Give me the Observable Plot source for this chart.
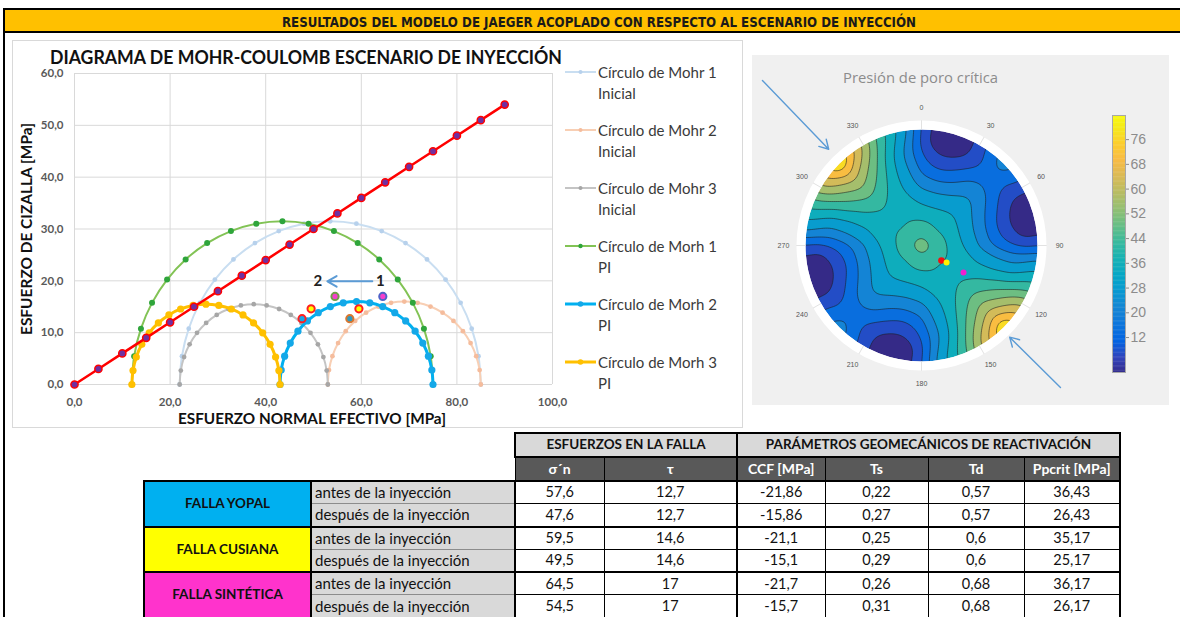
<!DOCTYPE html>
<html><head><meta charset="utf-8">
<script src="https://cdn.jsdelivr.net/npm/d3@7"></script>
<script src="https://cdn.jsdelivr.net/npm/@observablehq/plot@0.6"></script>
<style>
html,body{margin:0;padding:0;background:#fff;}
#root{position:relative;width:1180px;height:617px;overflow:hidden;font-family:Lato,"Open Sans",sans-serif;background:#fff;}
.abs{position:absolute;}
#tabla{position:absolute;left:143px;top:432px;border-collapse:collapse;table-layout:fixed;font-family:Lato,sans-serif;color:#111;}
#tabla td,#tabla th{padding:0;overflow:hidden;white-space:nowrap;line-height:1;}
#tabla .blank{border:none;background:transparent;}
#tabla .grp{background:#D9D9D9;border:2px solid #000;font-weight:bold;font-size:13.5px;height:22px;text-align:center;}
#tabla .sub{background:#595959;color:#fff;font-weight:bold;font-size:14px;border:1px solid #000;border-bottom:2px solid #000;height:22px;text-align:center;}
#tabla .nom{font-weight:bold;font-size:13.5px;text-align:center;border:2px solid #000;}
#tabla .est{background:#D9D9D9;font-size:15px;text-align:left;padding-left:3px;border-top:1px solid #8c8c8c;border-bottom:1px solid #8c8c8c;border-left:2px solid #000;border-right:2px solid #000;}
#tabla .num{font-size:14.5px;text-align:center;border:1px solid #000;height:21.3px;background:#fff;}
#tabla .g0 td{border-top:2px solid #000;}
#tabla .last td{border-bottom:2px solid #000;}
#tabla .sep{border-right:2px solid #000 !important;}
#tabla .rgt{border-right:2px solid #000 !important;}
</style></head>
<body><div id="root"></div>
<script>
// ================= DATA =================
const tituloGeneral = "RESULTADOS DEL MODELO DE JAEGER ACOPLADO CON RESPECTO AL ESCENARIO DE INYECCIÓN";
const tituloMohr = "DIAGRAMA DE MOHR-COULOMB ESCENARIO DE INYECCIÓN";
const tituloEjeX = "ESFUERZO NORMAL EFECTIVO [MPa]";
const tituloEjeY = "ESFUERZO DE CIZALLA [MPa]";
const ticksX = [0, 20, 40, 60, 80, 100];
const ticksY = [0, 10, 20, 30, 40, 50, 60];

const nombresSeries = ["Círculo de Mohr 1 Inicial", "Círculo de Mohr 2 Inicial", "Círculo de Mohr 3 Inicial",
                       "Círculo de Morh 1 PI", "Círculo de Morh 2 PI", "Círculo de Morh 3 PI"];

const sigmaMohr1Inicial = [22,22.48,23.9,26.22,29.37,33.25,37.75,42.73,48.03,53.5,58.97,64.27,69.25,73.75,77.63,80.78,83.1,84.52,85];
const sigmaMohr2Inicial = [53,53.24,53.96,55.14,56.74,58.72,61,63.53,66.22,69,71.78,74.47,77,79.28,81.26,82.86,84.04,84.76,85];
const sigmaMohr3Inicial = [22,22.24,22.93,24.08,25.63,27.54,29.75,32.2,34.81,37.5,40.19,42.8,45.25,47.46,49.37,50.92,52.07,52.76,53];
const sigmaMorh1PI = [12,12.48,13.9,16.22,19.37,23.25,27.75,32.73,38.03,43.5,48.97,54.27,59.25,63.75,67.63,70.78,73.1,74.52,75];
const sigmaMorh2PI = [43,43.24,43.96,45.14,46.74,48.72,51,53.53,56.22,59,61.78,64.47,67,69.28,71.26,72.86,74.04,74.76,75];
const sigmaMorh3PI = [12,12.24,12.93,14.08,15.63,17.54,19.75,22.2,24.81,27.5,30.19,32.8,35.25,37.46,39.37,40.92,42.07,42.76,43];
const tauCirculo1 = [0,5.47,10.77,15.75,20.25,24.13,27.28,29.6,31.02,31.5,31.02,29.6,27.28,24.13,20.25,15.75,10.77,5.47,0];
const tauCirculo2 = [0,2.78,5.47,8,10.28,12.26,13.86,15.04,15.76,16,15.76,15.04,13.86,12.26,10.28,8,5.47,2.78,0];
const tauCirculo3 = [0,2.69,5.3,7.75,9.96,11.87,13.42,14.57,15.26,15.5,15.26,14.57,13.42,11.87,9.96,7.75,5.3,2.69,0];

const sigmaEnvolvente = [0,5,10,15,20,25,30,35,40,45,50,55,60,65,70,75,80,85,90];
const tauEnvolvente = [0,3,6,9,12,15,18,21,24,27,30,33,36,39,42,45,48,51,54];

const fallas = ["FALLA YOPAL", "FALLA CUSIANA", "FALLA SINTÉTICA"];
const estados = ["antes de la inyección", "después de la inyección"];
const sigmaN = [57.6, 47.6, 59.5, 49.5, 64.5, 54.5];
const tauFalla = [12.7, 12.7, 14.6, 14.6, 17, 17];
const ccf = [-21.86, -15.86, -21.1, -15.1, -21.7, -15.7];
const ts = [0.22, 0.27, 0.25, 0.29, 0.26, 0.31];
const td = [0.57, 0.57, 0.6, 0.6, 0.68, 0.68];
const ppcrit = [36.43, 26.43, 35.17, 25.17, 36.17, 26.17];
const encabezadoGrupos = ["ESFUERZOS EN LA FALLA", "PARÁMETROS GEOMECÁNICOS DE REACTIVACIÓN"];
const encabezadoColumnas = ["σ´n", "τ", "CCF [MPa]", "Ts", "Td", "Ppcrit [MPa]"];

const etiquetasFlecha = ["1", "2"];
const sigmaEtiquetas = [64.0, 50.9];
const tauEtiquetas = [19.9, 19.9];

// polar (stereonet) panel
const tituloPolar = "Presión de poro crítica";
const azimutSigma3 = 45;
const alphas = [0, 7.5, 15, 22.5, 30, 37.5, 45, 52.5, 60, 67.5, 75, 82.5, 90];
const radios = [0.2, 0.35, 0.5, 0.65, 0.8, 0.9, 1.0];
const ppCentro = 53;
const ppTabla = [
  [41, 36, 31, 26, 18, 21, 25],
  [41, 36, 30, 24, 16, 15, 19],
  [42, 35, 28, 20, 12, 9, 10],
  [42, 35, 27, 17, 8, 3, 3],
  [43, 34, 26, 15, 6, 1, 1],
  [43, 35, 27, 16, 8, 3, 4],
  [43, 35, 27, 19, 14, 12, 13],
  [43, 37, 31, 27, 24, 26, 29],
  [43, 38, 34, 32, 32, 35, 38],
  [43, 39, 37, 38, 41, 45, 48],
  [43, 40, 40, 44, 51, 57, 62],
  [42, 40, 42, 49, 58, 66, 74],
  [42, 40, 43, 52, 63, 74, 86]
];
const nivelesPp = [0, 7, 14, 21, 28, 35, 42, 49, 56, 63, 70, 77, 84];
const ticksBarra = [12, 20, 28, 36, 44, 52, 60, 68, 76];
const rangoBarra = [0.7, 83.8];
const etiquetasAzimut = [0, 30, 60, 90, 120, 150, 180, 210, 240, 270, 300, 330];
const polosX = [0.172, 0.216, 0.362];
const polosY = [-0.129, -0.147, -0.233];

// ================= STYLES =================
const estiloSeries = [
  {line: "#C9DEF1", dot: "#B7D1EC", w: 2, r: 2.4},
  {line: "#F8CFB4", dot: "#F5BC9C", w: 2, r: 2.4},
  {line: "#C4C4C4", dot: "#A6A6A6", w: 2, r: 2.4},
  {line: "#82C355", dot: "#2FA53B", w: 2, r: 3},
  {line: "#00B0F0", dot: "#14A8E8", w: 3, r: 3.6},
  {line: "#FFC000", dot: "#FFC000", w: 3, r: 3.6}
];
const estiloFallasPuntos = [
  {fill: "#2F9AC0", stroke: "#D9762E"},
  {fill: "#1AA6E6", stroke: "#FF1F1F"},
  {fill: "#FFFF00", stroke: "#FF1F1F"},
  {fill: "#FFFF00", stroke: "#FF1F1F"},
  {fill: "#F53FCB", stroke: "#4F62C8"},
  {fill: "#F53FCB", stroke: "#6E9E47"}
];
const coloresFalla = ["#00B0F0", "#FFFF00", "#FF33CC"];
const coloresPolos = ["#F01010", "#FFF200", "#F020D0"];

// parula colormap
const parulaStops = ["#352A87","#3243BA","#0363E1","#0D75DC","#1485D4","#0998D1","#06A7C6","#15B1B4","#38B99E","#65BE86","#92BF73","#B7BD64","#D9BA56","#F8BB44","#FCCE2E","#F5EB18","#F9FB0E"];
const parulaPos = [0,4,8,12,16,20,24,28,32,36,40,44,48,52,56,60,63].map(i => i / 63);
const parulaScale = d3.scaleLinear().domain(parulaPos).range(parulaStops).interpolate(d3.interpolateRgb).clamp(true);
const parula = t => parulaScale(t);

// ================= LAYOUT =================
const root = d3.select("#root");
const fmt1 = d => d.toFixed(1).replace(".", ",");
const fmtNum = v => String(v).replace(".", ",");

// title bar
root.append("div").attr("class", "abs")
  .style("left", "3px").style("top", "8px").style("width", "1177px").style("height", "21px")
  .style("background", "#FFC000").style("border-top", "2px solid #000").style("border-bottom", "2px solid #000")
  .style("border-left", "2px solid #000");
root.append("div").attr("class", "abs")
  .style("left", "3px").style("top", "33px").style("width", "2px").style("height", "584px").style("background", "#000");

// Mohr panel box
root.append("div").attr("class", "abs")
  .style("left", "12px").style("top", "40px").style("width", "731px").style("height", "388px")
  .style("box-sizing", "border-box").style("border", "1px solid #D9D9D9").style("background", "#fff");

// Mohr series
const sigmasMohr = [sigmaMohr1Inicial, sigmaMohr2Inicial, sigmaMohr3Inicial, sigmaMorh1PI, sigmaMorh2PI, sigmaMorh3PI];
const tausMohr = [tauCirculo1, tauCirculo2, tauCirculo3, tauCirculo1, tauCirculo2, tauCirculo3];
const seriesMohr = sigmasMohr.map((s, i) => s.map((x, k) => ({x, y: tausMohr[i][k]})));
const envolvente = sigmaEnvolvente.map((x, k) => ({x, y: tauEnvolvente[k]}));
const puntosFallas = sigmaN.map((x, k) => ({x, y: tauFalla[k]}));

const mohrMarks = [
  Plot.ruleX(ticksX, {stroke: "#D9D9D9", strokeWidth: 1}),
  Plot.ruleY(ticksY, {stroke: "#D9D9D9", strokeWidth: 1}),
  Plot.axisX(ticksX, {tickSize: 0, tickPadding: 13, tickFormat: fmt1, fontWeight: "bold", fontSize: 11.5, color: "#595959", label: null}),
  Plot.axisY(ticksY, {tickSize: 0, tickPadding: 11, tickFormat: fmt1, fontWeight: "bold", fontSize: 11.5, color: "#595959", label: null})
];
seriesMohr.forEach((pts, i) => {
  const st = estiloSeries[i];
  mohrMarks.push(Plot.line(pts, {x: "x", y: "y", curve: "catmull-rom", stroke: st.line, strokeWidth: st.w}));
  mohrMarks.push(Plot.dot(pts, {x: "x", y: "y", r: st.r, fill: st.dot}));
});
mohrMarks.push(Plot.line(envolvente, {x: "x", y: "y", stroke: "#FF0000", strokeWidth: 2.5}));
mohrMarks.push(Plot.dot(envolvente, {x: "x", y: "y", r: 3.6, fill: "#7030A0", stroke: "#FF0000", strokeWidth: 1.5}));
puntosFallas.forEach((p, k) => {
  mohrMarks.push(Plot.dot([p], {x: "x", y: "y", r: 3.6, fill: estiloFallasPuntos[k].fill, stroke: estiloFallasPuntos[k].stroke, strokeWidth: 2}));
});
mohrMarks.push(Plot.arrow([{x1: 62.3, y1: tauEtiquetas[0], x2: 52.9, y2: tauEtiquetas[1]}],
  {x1: "x1", y1: "y1", x2: "x2", y2: "y2", stroke: "#5B9BD5", strokeWidth: 2, headLength: 8}));
mohrMarks.push(Plot.text(etiquetasFlecha.map((t, k) => ({t, x: sigmaEtiquetas[k], y: tauEtiquetas[k]})),
  {x: "x", y: "y", text: "t", fontSize: 15, fontWeight: "bold", fill: "#222"}));

const mohr = Plot.plot({
  width: 731, height: 388,
  marginLeft: 62, marginRight: 191, marginTop: 33, marginBottom: 44,
  x: {domain: [0, 100]}, y: {domain: [0, 60]},
  style: {background: "transparent", fontFamily: "Lato, sans-serif"},
  marks: mohrMarks
});
root.append("div").attr("class", "abs").style("left", "12px").style("top", "40px").node().appendChild(mohr);

// ---------- polar panel ----------
root.append("div").attr("class", "abs")
  .style("left", "752px").style("top", "55px").style("width", "417px").style("height", "350px").style("background", "#F0F0F0");

const toRad = Math.PI / 180;
const puntosPp = [{x: 0, y: 0, v: ppCentro}];
d3.range(0, 360, 7.5).forEach(az => {
  let d = (((az - azimutSigma3) % 180) + 180) % 180;
  const a = d > 90 ? 180 - d : d;
  const fila = ppTabla[alphas.indexOf(a)];
  radios.forEach((r, j) => puntosPp.push({x: r * Math.sin(az * toRad), y: r * Math.cos(az * toRad), v: fila[j]}));
  puntosPp.push({x: 1.15 * Math.sin(az * toRad), y: 1.15 * Math.cos(az * toRad), v: fila[fila.length - 1]});
});
const centro = [{x: 0, y: 0}];
const etiquetasPol = etiquetasAzimut.map(a => ({t: String(a), x: 1.19 * Math.sin(a * toRad), y: 1.19 * Math.cos(a * toRad)}));
const marcasAnillo = etiquetasAzimut.map(a => ({x1: 1.0 * Math.sin(a * toRad), y1: 1.0 * Math.cos(a * toRad), x2: 1.08 * Math.sin(a * toRad), y2: 1.08 * Math.cos(a * toRad)}));
const polos = polosX.map((x, k) => ({x, y: polosY[k]}));
const flechasPolar = [
  {x1: -1.371, y1: 1.422, x2: -0.80, y2: 0.83},
  {x1: 1.198, y1: -1.224, x2: 0.76, y2: -0.79}
];

const colorPp = {type: "linear", domain: [0, 84], interpolate: parula, clamp: true};
const polar = Plot.plot({
  width: 417, height: 350, margin: 0,
  x: {domain: [-169 / 116, 248 / 116], axis: null},
  y: {domain: [-160 / 116, 190 / 116], axis: null},
  color: colorPp,
  style: {background: "transparent", fontFamily: "Liberation Sans, Arial, sans-serif"},
  marks: [
    Plot.contour(puntosPp, {x: "x", y: "y", fill: "v", interpolate: "barycentric", thresholds: nivelesPp,
      blur: 2, stroke: "#1b1b1b", strokeWidth: 0.7, strokeOpacity: 0.8}),
    Plot.dot(centro, {x: "x", y: "y", r: 116 + 160, stroke: "#F0F0F0", strokeWidth: 320, fill: "none"}),
    Plot.dot(centro, {x: "x", y: "y", r: 116 + 4.5, stroke: "#FFFFFF", strokeWidth: 9, fill: "none"}),
    Plot.link(marcasAnillo, {x1: "x1", y1: "y1", x2: "x2", y2: "y2", stroke: "#E2E2E2", strokeWidth: 1}),
    Plot.text(etiquetasPol, {x: "x", y: "y", text: "t", fontSize: 7, fill: "#555"}),
    ...polos.map((p, k) => Plot.dot([p], {x: "x", y: "y", r: k === 0 ? 3.3 : 3, fill: coloresPolos[k]})),
    Plot.arrow(flechasPolar, {x1: "x1", y1: "y1", x2: "x2", y2: "y2", stroke: "#5B9BD5", strokeWidth: 1.4, headLength: 11})
  ]
});
root.append("div").attr("class", "abs").style("left", "752px").style("top", "55px").node().appendChild(polar);

// colorbar
const franjas = d3.range(0, 200).map(i => {
  const a = rangoBarra[0] + (rangoBarra[1] - rangoBarra[0]) * i / 200;
  const b = rangoBarra[0] + (rangoBarra[1] - rangoBarra[0]) * (i + 1.3) / 200;
  return {y1: a, y2: Math.min(b, rangoBarra[1]), v: (a + b) / 2};
});
const barra = Plot.plot({
  width: 70, height: 290, marginLeft: 12, marginRight: 45, marginTop: 15, marginBottom: 18,
  x: {domain: [0, 1], axis: null}, y: {domain: rangoBarra},
  color: colorPp,
  style: {background: "transparent", fontFamily: "Liberation Sans, Arial, sans-serif"},
  marks: [
    Plot.rect(franjas, {x1: 0, x2: 1, y1: "y1", y2: "y2", fill: "v"}),
    Plot.frame({stroke: "#A8A8A8"}),
    Plot.axisY(ticksBarra, {anchor: "right", tickSize: 3, tickPadding: 2, fontSize: 14, color: "#8C8C8C", label: null})
  ]
});
root.append("div").attr("class", "abs").style("left", "1100px").style("top", "100px").node().appendChild(barra);

// ---------- table ----------
const anchos = [167, 204, 89, 133, 88, 103, 96, 96];
let html = "<colgroup>" + anchos.map(w => `<col style="width:${w}px">`).join("") + "</colgroup>";
html += `<tr><td class="blank" colspan="2"></td><th class="grp" colspan="2">${encabezadoGrupos[0]}</th><th class="grp" colspan="4">${encabezadoGrupos[1]}</th></tr>`;
html += `<tr><td class="blank" colspan="2"></td>` + encabezadoColumnas.map((c, i) => `<th class="sub${i === 1 ? " sep" : ""}${i === 5 ? " rgt" : ""}">${c}</th>`).join("") + "</tr>";
for (let k = 0; k < 6; k++) {
  const g = Math.floor(k / 2), first = k % 2 === 0;
  const cls = (first ? "g0" : "") + (k === 5 ? " last" : "");
  html += `<tr class="${cls}">`;
  if (first) html += `<td class="nom" rowspan="2" style="background:${coloresFalla[g]}">${fallas[g]}</td>`;
  html += `<td class="est">${estados[k % 2]}</td>`;
  const vals = [sigmaN[k], tauFalla[k], ccf[k], ts[k], td[k], ppcrit[k]];
  html += vals.map((v, i) => `<td class="num${i === 1 ? " sep" : ""}${i === 5 ? " rgt" : ""}">${fmtNum(v)}</td>`).join("");
  html += "</tr>";
}
root.append("table").attr("id", "tabla").html(html);

// ---------- overlay texts ----------
const ov = root.append("svg").attr("width", 1180).attr("height", 617)
  .style("position", "absolute").style("left", "0px").style("top", "0px").style("pointer-events", "none");
function texto(x, y, t, o) {
  const el = ov.append("text").attr("x", x).attr("y", y).text(t)
    .attr("font-family", o.family || "Lato, sans-serif").attr("font-size", o.size).attr("font-weight", o.weight || "normal")
    .attr("fill", o.fill || "#000").attr("text-anchor", o.anchor || "start");
  if (o.len) el.attr("textLength", o.len).attr("lengthAdjust", "spacingAndGlyphs");
  if (o.transform) el.attr("transform", o.transform);
  return el;
}
texto(599, 27, tituloGeneral, {size: 14, weight: "bold", anchor: "middle", len: 634, family: "'Liberation Sans Narrow','DejaVu Sans Condensed','Roboto',sans-serif", fill: "#1a1a1a"});
texto(50, 64, tituloMohr, {size: 18.5, weight: "bold", len: 512, fill: "#111"});
texto(312, 424, tituloEjeX, {size: 15.5, weight: "bold", anchor: "middle", len: 268, fill: "#111"});
texto(0, 0, tituloEjeY, {size: 15.5, weight: "bold", anchor: "middle", len: 212, fill: "#111", transform: "translate(32,229) rotate(-90)"});
texto(843, 83, tituloPolar, {size: 14.5, fill: "#8C8C8C", len: 155, family: "'Open Sans', sans-serif"});

// legend
nombresSeries.forEach((n, i) => {
  const y = 72 + 58 * i;
  const st = estiloSeries[i];
  ov.append("line").attr("x1", 565).attr("x2", 596).attr("y1", y).attr("y2", y).attr("stroke", st.line).attr("stroke-width", st.w);
  ov.append("circle").attr("cx", 580.5).attr("cy", y).attr("r", Math.max(2, st.r - 0.8)).attr("fill", st.dot);
  const partes = n.split(" ");
  const ultima = partes.pop();
  texto(598, y + 6, partes.join(" "), {size: 15, fill: "#3A3A3A"});
  texto(598, y + 27, ultima, {size: 15, fill: "#3A3A3A"});
});
</script>
</body></html>
